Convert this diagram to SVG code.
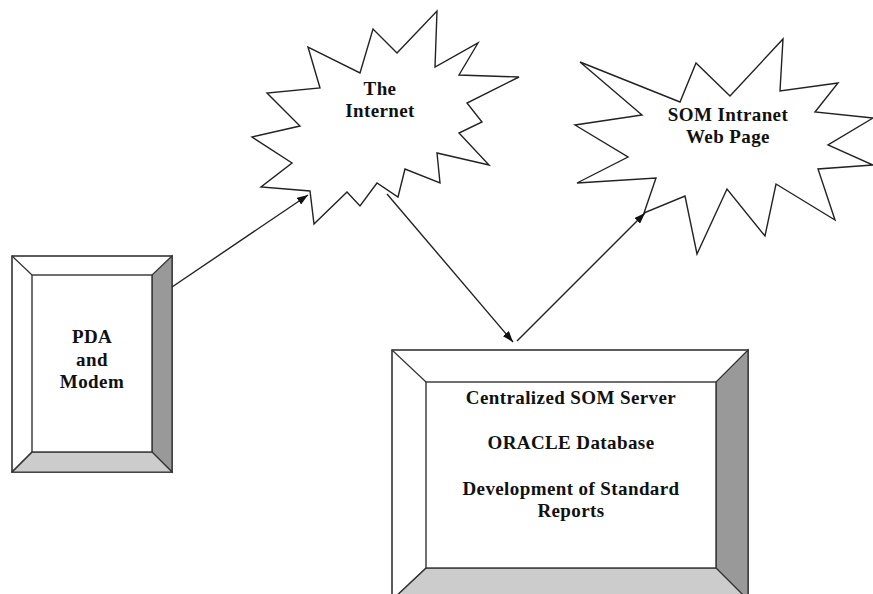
<svg xmlns="http://www.w3.org/2000/svg" width="873" height="594" viewBox="0 0 873 594">
<style>
.burst{fill:#fff;stroke:#222;stroke-width:1.4;stroke-linejoin:miter}
.outer{fill:#fff;stroke:#333;stroke-width:1.6}
.rb{fill:#999;stroke:#333;stroke-width:1.2}
.bb{fill:#ccc;stroke:#333;stroke-width:1.2}
.ln{stroke:#333;stroke-width:1.2;fill:none}
.inner{fill:#fff;stroke:#333;stroke-width:1.4}
.lbl{font-family:"Liberation Serif","Times New Roman",serif;font-weight:bold;font-size:19px;letter-spacing:0.4px;fill:#111;text-anchor:middle}
.conn{stroke:#222;stroke-width:1.4;fill:none;marker-end:url(#ah)}
</style>
<defs>
<marker id="ah" viewBox="0 0 11 8" refX="11" refY="4" markerWidth="11" markerHeight="8" orient="auto" markerUnits="userSpaceOnUse">
<path d="M0,0 L11,4 L0,8 z" fill="#111"/>
</marker>
</defs>
<rect width="873" height="594" fill="#fff"/>

<g id="internet">
<polygon class="burst" points="437,11 435,67 478,43 459,75 519,77 467,103 482,122 459,133 489,165 437,153 440,183 405,169 398,197 377,183 360,206 347,192 314,224 310,191 261,187 292,163 252,137 300,126 267,93 320,88 308,47 360,73 373,29 397,53"/>
<text class="lbl" x="380" y="95">The</text>
<text class="lbl" x="380" y="117">Internet</text>
</g>

<g id="intranet">
<polygon class="burst" points="783,39 780,91 838,83 815,112 873,118 828,145 873,165 818,169 835,220 776,184 765,236 727,189 697,254 685,196 644,213 656,178 577,183 628,157 575,125 642,115 580,62 680,102 696,63 730,96"/>
<text class="lbl" x="728" y="121">SOM Intranet</text>
<text class="lbl" x="728" y="143">Web Page</text>
</g>

<g id="pda">
<rect class="outer" x="12" y="256" width="160" height="216"/>
<polygon class="rb" points="172,256 172,472 152,452 152,275"/>
<polygon class="bb" points="12,472 172,472 152,452 32,452"/>
<line class="ln" x1="12" y1="256" x2="32" y2="275"/>
<line class="ln" x1="12" y1="472" x2="32" y2="452"/>
<rect class="inner" x="32" y="275" width="120" height="177"/>
<text class="lbl" x="92" y="343">PDA</text>
<text class="lbl" x="92" y="366">and</text>
<text class="lbl" x="92" y="388">Modem</text>
</g>

<g id="server">
<rect class="outer" x="392" y="350" width="356" height="250"/>
<polygon class="rb" points="748,350 748,600 716,568 716,382"/>
<polygon class="bb" points="392,600 748,600 716,568 426,568"/>
<line class="ln" x1="392" y1="350" x2="426" y2="382"/>
<line class="ln" x1="392" y1="600" x2="426" y2="568"/>
<rect class="inner" x="426" y="382" width="290" height="186"/>
<text class="lbl" x="571" y="404">Centralized SOM Server</text>
<text class="lbl" x="571" y="449">ORACLE Database</text>
<text class="lbl" x="571" y="495">Development of Standard</text>
<text class="lbl" x="571" y="517">Reports</text>
</g>

<g id="connectors">
<line class="conn" x1="172" y1="287" x2="308" y2="195"/>
<line class="conn" x1="387" y1="194" x2="513" y2="342"/>
<line class="conn" x1="517" y1="341" x2="645" y2="213"/>
</g>
</svg>
